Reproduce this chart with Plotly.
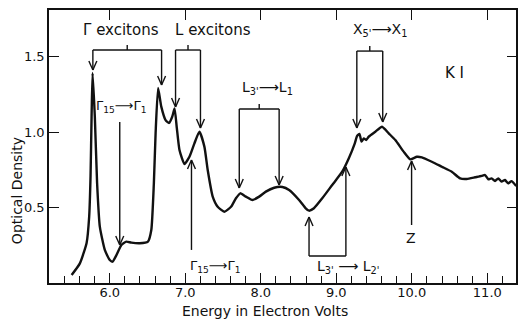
import plotly.graph_objects as go

# ---- data ----
energy_ev = [5.495, 5.604, 5.693, 5.727, 5.745, 5.759, 5.772, 5.802, 5.832, 5.868,
             5.934, 6.000, 6.036, 6.088, 6.154, 6.220, 6.286, 6.396, 6.505, 6.550,
             6.584, 6.607, 6.640, 6.682, 6.739, 6.785, 6.827, 6.858, 6.888, 6.923,
             6.989, 7.055, 7.121, 7.187, 7.253, 7.297, 7.363, 7.429, 7.517, 7.606,
             7.671, 7.728, 7.803, 7.890, 7.979, 8.067, 8.177, 8.286, 8.375, 8.507,
             8.595, 8.639, 8.704, 8.814, 8.946, 9.078, 9.166, 9.245, 9.276, 9.307,
             9.334, 9.364, 9.395, 9.430, 9.518, 9.606, 9.694, 9.782, 9.892, 9.980,
             10.067, 10.133, 10.265, 10.397, 10.529, 10.640, 10.727, 10.838, 10.925, 10.970,
             11.013, 11.057, 11.102, 11.145, 11.189, 11.234, 11.277, 11.321, 11.383]
optical_density = [0.053, 0.130, 0.265, 0.439, 0.704, 1.101, 1.391, 1.101, 0.662, 0.373,
                   0.219, 0.152, 0.141, 0.185, 0.252, 0.274, 0.267, 0.263, 0.274, 0.351,
                   0.662, 0.993, 1.291, 1.168, 1.079, 1.060, 1.101, 1.156, 1.026, 0.881,
                   0.788, 0.836, 0.925, 1.002, 0.903, 0.748, 0.572, 0.505, 0.472, 0.505,
                   0.561, 0.594, 0.572, 0.550, 0.572, 0.605, 0.631, 0.636, 0.616, 0.550,
                   0.495, 0.479, 0.495, 0.561, 0.649, 0.737, 0.826, 0.925, 0.974, 0.987,
                   0.936, 0.958, 0.947, 0.969, 1.002, 1.035, 0.991, 0.947, 0.870, 0.819,
                   0.836, 0.832, 0.803, 0.770, 0.737, 0.693, 0.689, 0.700, 0.709, 0.715,
                   0.687, 0.693, 0.675, 0.693, 0.671, 0.682, 0.660, 0.675, 0.642]
x_tick_vals = [6, 7, 8, 9, 10, 11]
x_tick_text = ["6.0", "7.0", "8.0", "9.0", "10.0", "11.0"]
y_tick_vals = [0.5, 1.0, 1.5]
y_tick_text = ["0.5", "1.0", "1.5"]

X_RANGE = [5.195, 11.38]
Y_RANGE = [0.0, 1.808]
FONT = "DejaVu Sans"
INK = "#111111"

fig = go.Figure()
fig.add_trace(go.Scatter(x=energy_ev, y=optical_density, mode="lines",
                         line=dict(color=INK, width=2.4, shape="spline", smoothing=0.5),
                         hoverinfo="skip", showlegend=False))
# dummy trace to activate the mirrored tick axes
fig.add_trace(go.Scatter(x=[None], y=[None], xaxis="x2", yaxis="y2",
                         mode="lines", showlegend=False, hoverinfo="skip"))

# ---- annotation geometry (data units) ----
PX_X = (X_RANGE[1] - X_RANGE[0]) / 469.0   # data per pixel, x
PX_Y = (Y_RANGE[1] - Y_RANGE[0]) / 273.0   # data per pixel, y
shapes = []

def seg(x0, y0, x1, y1, w=1.4):
    shapes.append(dict(type="line", xref="x", yref="y", x0=x0, y0=y0, x1=x1, y1=y1,
                       line=dict(color=INK, width=w)))

def head(x, y, down=True):
    dx, dy = 4 * PX_X, 9 * PX_Y
    s = dy if down else -dy
    seg(x - dx, y + s, x, y)
    seg(x + dx, y + s, x, y)

def bracket_down(xa, xb, ybar, tip_a, tip_b):
    seg(xa, ybar, xb, ybar)
    xc = (xa + xb) / 2
    seg(xc, ybar, xc, ybar + 5 * PX_Y)
    seg(xa, ybar, xa, tip_a); head(xa, tip_a, True)
    seg(xb, ybar, xb, tip_b); head(xb, tip_b, True)

def bracket_up(xa, xb, ybar, tip_a, tip_b):
    seg(xa, ybar, xb, ybar)
    seg(xa, ybar, xa, tip_a); head(xa, tip_a, False)
    seg(xb, ybar, xb, tip_b); head(xb, tip_b, False)

bracket_down(5.776, 6.686, 1.543, 1.411, 1.311)   # Gamma excitons
bracket_down(6.871, 7.201, 1.543, 1.166, 1.026)   # L excitons
bracket_down(7.715, 8.243, 1.152, 0.629, 0.649)   # L3' -> L1
bracket_down(9.272, 9.615, 1.536, 1.026, 1.066)   # X5' -> X1
bracket_up(8.639, 9.127, 0.179, 0.437, 0.768)     # L3' -> L2'
# single arrows
seg(6.132, 1.066, 6.132, 0.252); head(6.132, 0.252, True)
seg(7.082, 0.219, 7.082, 0.815); head(7.082, 0.815, False)
seg(9.997, 0.384, 9.997, 0.808); head(9.997, 0.808, False)

labels = [
    (6.145, 1.675, "Γ excitons", 15),
    (7.372, 1.675, "L excitons", 15),
    (6.150, 1.166, "Γ<sub>15</sub>⟶Γ<sub>1</sub>", 13),
    (7.400, 0.106, "Γ<sub>15</sub>⟶Γ<sub>1</sub>", 13),
    (8.090, 1.291, "L<sub>3'</sub>⟶L<sub>1</sub>", 14),
    (9.575, 1.675, "X<sub>5'</sub>⟶X<sub>1</sub>", 14),
    (9.150, 0.106, "L<sub>3'</sub> ⟶ L<sub>2'</sub>", 14),
    (10.565, 1.391, "K I", 15),
    (9.990, 0.298, "Z", 14),
]
annotations = [dict(x=x, y=y, xref="x", yref="y", text=t, showarrow=False,
                    font=dict(family=FONT, size=s, color=INK))
               for x, y, t, s in labels]
annotations.append(dict(x=(266 - 49) / 469.0, y=(283 - 311) / 273.0,
                        xref="paper", yref="paper",
                        text="Energy in Electron Volts", showarrow=False,
                        xanchor="center", yanchor="middle",
                        font=dict(family=FONT, size=14, color=INK)))
annotations.append(dict(x=(17 - 49) / 469.0, y=(283 - 191) / 273.0,
                        xref="paper", yref="paper",
                        text="Optical Density", showarrow=False, textangle=-90,
                        xanchor="center", yanchor="middle",
                        font=dict(family=FONT, size=14, color=INK)))

fig.update_layout(
    width=519, height=320,
    margin=dict(l=49, r=1, t=10, b=37),
    paper_bgcolor="white", plot_bgcolor="white",
    shapes=shapes, annotations=annotations,
    xaxis=dict(range=X_RANGE, autorange=False, showgrid=False, zeroline=False,
               showline=True, linecolor=INK, linewidth=1.6, mirror=True,
               tickmode="array", tickvals=x_tick_vals, ticktext=x_tick_text,
               ticks="inside", ticklen=10, tickwidth=1.3, tickcolor=INK,
               ticklabelstandoff=-3,
               minor=dict(dtick=0.2, tick0=0, ticks="inside", ticklen=7,
                          tickwidth=1.2, tickcolor=INK),
               tickfont=dict(family=FONT, size=13, color=INK)),
    yaxis=dict(range=Y_RANGE, autorange=False, showgrid=False, zeroline=False,
               showline=True, linecolor=INK, linewidth=1.6, mirror=True,
               tickmode="array", tickvals=y_tick_vals, ticktext=y_tick_text,
               ticks="inside", ticklen=10, tickwidth=1.3, tickcolor=INK,
               tickfont=dict(family=FONT, size=13, color=INK)),
    xaxis2=dict(range=X_RANGE, autorange=False, overlaying="x", side="top",
                showgrid=False, zeroline=False, showline=False,
                tickmode="array", tickvals=x_tick_vals, showticklabels=False,
                ticks="inside", ticklen=10, tickwidth=1.3, tickcolor=INK),
    yaxis2=dict(range=Y_RANGE, autorange=False, overlaying="y", side="right",
                showgrid=False, zeroline=False, showline=False,
                tickmode="array", tickvals=y_tick_vals, showticklabels=False,
                ticks="inside", ticklen=9, tickwidth=1.3, tickcolor=INK),
)

fig.write_html("out.html")
